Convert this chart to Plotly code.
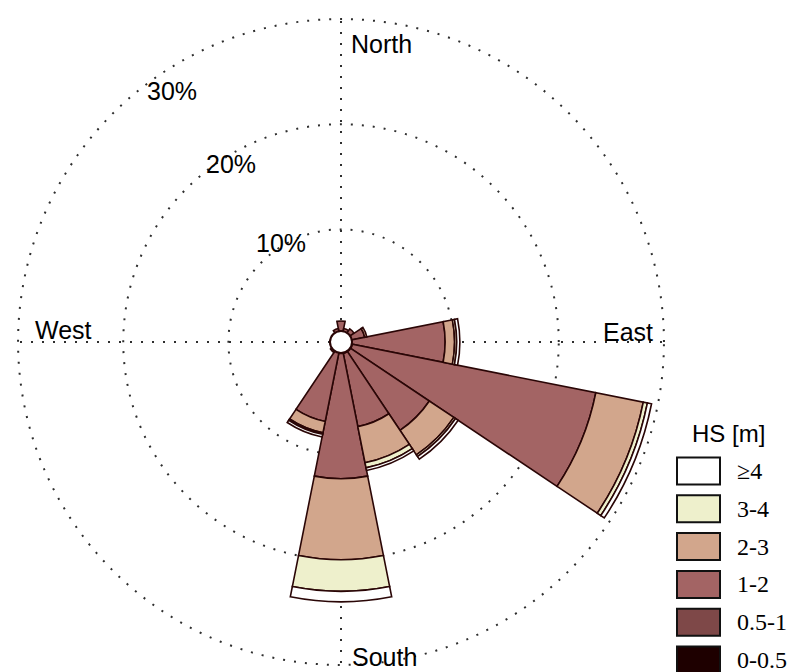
import plotly.graph_objects as go

# Direction sectors (bearing in degrees, clockwise from north)
directions = ["N", "NNE", "NE", "ENE", "E", "ESE", "SE", "SSE",
              "S", "SSW", "SW", "WSW", "W", "WNW", "NW", "NNW"]
bearings = [0, 22.5, 45, 67.5, 90, 112.5, 135, 157.5,
            180, 202.5, 225, 247.5, 270, 292.5, 315, 337.5]

# Significant wave height classes and frequency of occurrence (%) per sector
hs_classes = ["0-0.5", "0.5-1", "1-2", "2-3", "3-4", "≥4"]
freq_0_05 = [0.1, 0.05, 0.05, 0.1, 0.1, 0.1, 0.1, 0.1, 0.1, 0.1, 0.05, 0.05, 0.05, 0.05, 0.05, 0.05]
freq_05_1 = [0.2, 0.15, 0.15, 0.2, 0.2, 0.3, 0.3, 0.3, 0.3, 0.2, 0.15, 0.1, 0.1, 0.1, 0.1, 0.15]
freq_1_2 = [1.0, 0.4, 0.6, 1.3, 8.9, 23.6, 9.0, 7.1, 11.9, 6.7, 0.3, 0.2, 0.15, 0.15, 0.2, 0.4]
freq_2_3 = [0, 0, 0, 0.2, 0.9, 4.6, 2.8, 3.5, 7.7, 1.1, 0, 0, 0, 0, 0, 0]
freq_3_4 = [0, 0, 0, 0, 0.2, 0.4, 0.2, 0.5, 3.0, 0.15, 0, 0, 0, 0, 0, 0]
freq_4 = [0, 0, 0, 0, 0.3, 0.4, 0.3, 0.25, 1.0, 0.25, 0, 0, 0, 0, 0, 0]
frequencies = [freq_0_05, freq_05_1, freq_1_2, freq_2_3, freq_3_4, freq_4]

class_colors = ["#1e0000", "#7e4848", "#a36464", "#d2a68c", "#eef0cc", "#ffffff"]
outline = "#2a0606"

# Radial rings and compass labels
ring_values = [10, 20, 30]
ring_labels = ["10%", "20%", "30%"]
compass = ["North", "East", "South", "West"]

r_min = -0.7
r_max = 30.1   # a little past the last ring so its grid circle is drawn

fig = go.Figure()

for name, vals, col in zip(hs_classes, frequencies, class_colors):
    fig.add_trace(go.Barpolar(
        r=vals, theta=bearings, width=[22.5] * len(bearings), name=name,
        marker=dict(color=col, line=dict(color=outline, width=1.6)),
        showlegend=False,
    ))

# white hub over the centre of the rose
fig.add_trace(go.Scatterpolar(
    r=[r_min], theta=[0], mode="markers",
    marker=dict(size=22, color="white", line=dict(color=outline, width=2)),
    showlegend=False, hoverinfo="skip",
))

grid = dict(gridcolor="#2e2e2e", gridwidth=2, griddash="2px,9px")

fig.update_layout(
    width=793, height=672,
    margin=dict(l=0, r=0, t=0, b=0),
    paper_bgcolor="white",
    font=dict(family="Liberation Sans, Arial, sans-serif", color="black"),
    polar=dict(
        domain=dict(x=[17 / 793, 665 / 793], y=[6 / 672, 654 / 672]),
        bgcolor="white",
        barmode="stack",
        radialaxis=dict(range=[r_min, r_max], tickvals=ring_values,
                        showticklabels=False, ticks="", showline=False,
                        layer="above traces", **grid),
        angularaxis=dict(rotation=90, direction="clockwise",
                         tickvals=[0, 90, 180, 270], showticklabels=False,
                         ticks="", showline=False, layer="above traces", **grid),
    ),
)

ann = []
# compass labels inside the outer ring
compass_pos = [(349, 44, "left"), (655, 332, "right"), (350, 657, "left"), (33, 330, "left")]
for txt, (px, py, xa) in zip(compass, compass_pos):
    ann.append(dict(text=txt, x=px / 793, y=1 - py / 672, xref="paper", yref="paper",
                    xanchor=xa, yanchor="middle", showarrow=False,
                    font=dict(size=25, family="Liberation Sans, Arial, sans-serif")))

# ring value labels
ring_pos = [(281, 243), (231, 164), (172, 91)]
for txt, (px, py) in zip(ring_labels, ring_pos):
    ann.append(dict(text=txt, x=px / 793, y=1 - py / 672, xref="paper", yref="paper",
                    xanchor="center", yanchor="middle", showarrow=False,
                    font=dict(size=25, family="Liberation Sans, Arial, sans-serif")))

# legend: title, swatches and class labels (largest class on top)
ann.append(dict(text="HS [m]", x=728 / 793, y=1 - 433 / 672, xref="paper", yref="paper",
                xanchor="center", yanchor="middle", showarrow=False,
                font=dict(size=24, family="Liberation Sans, Arial, sans-serif")))
shapes = []
top_center = 471
step = 37.8
for i, (name, col) in enumerate(zip(hs_classes[::-1], class_colors[::-1])):
    cy = top_center + i * step
    shapes.append(dict(type="rect", xref="paper", yref="paper",
                       x0=677 / 793, x1=720 / 793,
                       y0=1 - (cy + 13.5) / 672, y1=1 - (cy - 13.5) / 672,
                       fillcolor=col, line=dict(color="#111111", width=2)))
    ann.append(dict(text=name, x=735 / 793, y=1 - cy / 672, xref="paper", yref="paper",
                    xanchor="left", yanchor="middle", showarrow=False,
                    font=dict(size=24, family="Liberation Serif, Times New Roman, serif")))

fig.update_layout(annotations=ann, shapes=shapes)

fig.write_html("out.html")
